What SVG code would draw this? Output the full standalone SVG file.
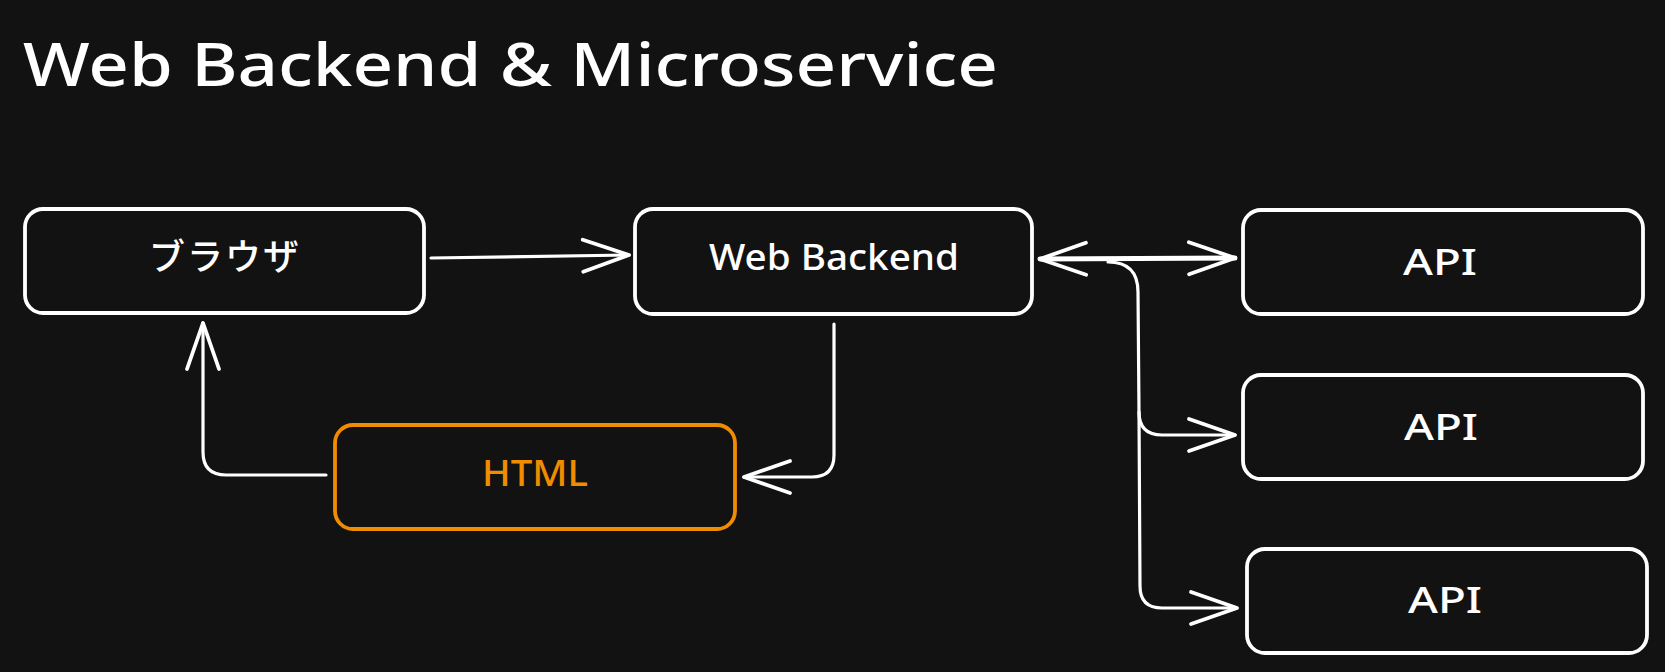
<svg xmlns="http://www.w3.org/2000/svg" width="1665" height="672" viewBox="0 0 1665 672">
<style>
.bg{fill:#121212}
.box{fill:#121212;stroke:#ffffff;stroke-width:3.8}
.box-o{fill:#121212;stroke:#f08c00;stroke-width:3.8}
.lbl{font-family:"Noto Sans","Noto Sans CJK JP",sans-serif;font-size:36px;font-weight:500;fill:#ffffff;text-anchor:middle}
.jp{font-family:"Noto Sans CJK JP","Noto Sans",sans-serif;font-size:36px;font-weight:500;fill:#ffffff;text-anchor:middle}
.orange{fill:#f08c00}
.title{font-family:"Noto Sans","Noto Sans CJK JP",sans-serif;font-size:60px;font-weight:500;fill:#ffffff}
.conn{fill:none;stroke:#ffffff;stroke-width:3.2;stroke-linecap:round;stroke-linejoin:round}
.thick{stroke-width:5}
</style>
<defs>
<marker id="arr" viewBox="0 0 52 38" refX="49" refY="19" markerWidth="52" markerHeight="38" markerUnits="userSpaceOnUse" orient="auto-start-reverse">
<path d="M3,3 L49,19 L3,35" fill="none" stroke="#ffffff" stroke-width="3.8" stroke-linecap="round" stroke-linejoin="round"/>
</marker>
</defs>
<rect class="bg" x="0" y="0" width="1665" height="672"/>
<text class="title" x="23" y="86" textLength="975" lengthAdjust="spacingAndGlyphs">Web Backend &amp; Microservice</text>

<g id="connectors">
<path class="conn" d="M431,258 L629,255" marker-end="url(#arr)"/>
<path class="conn" d="M834,324 L834,455 Q834,477 812,477 L744,477" marker-end="url(#arr)"/>
<path class="conn" d="M326,475 L226,475 Q203,475 203,452 L203,323" marker-end="url(#arr)"/>
<path class="conn thick" d="M1040,259 L1235,258" marker-start="url(#arr)" marker-end="url(#arr)"/>
<path class="conn" d="M1108,262 Q1138,262 1138,292 L1139,412 Q1139,435 1162,435 L1235,435" marker-end="url(#arr)"/>
<path class="conn" d="M1139,412 L1140,586 Q1140,608 1162,608 L1237,608" marker-end="url(#arr)"/>
</g>

<g id="node-browser">
<rect class="box" x="25" y="209" width="399" height="104" rx="18"/>
<text class="jp" x="224" y="270" textLength="150" lengthAdjust="spacing">ブラウザ</text>
</g>
<g id="node-webbackend">
<rect class="box" x="635" y="209" width="397" height="105" rx="18"/>
<text class="lbl" x="834" y="270" textLength="250" lengthAdjust="spacingAndGlyphs">Web Backend</text>
</g>
<g id="node-html">
<rect class="box-o" x="335" y="425" width="400" height="104" rx="18"/>
<text class="lbl orange" x="535" y="486" textLength="106" lengthAdjust="spacingAndGlyphs">HTML</text>
</g>
<g id="node-api1">
<rect class="box" x="1243" y="210" width="400" height="104" rx="18"/>
<text class="lbl" x="1440" y="275" textLength="74" lengthAdjust="spacingAndGlyphs">API</text>
</g>
<g id="node-api2">
<rect class="box" x="1243" y="375" width="400" height="104" rx="18"/>
<text class="lbl" x="1441" y="440" textLength="74" lengthAdjust="spacingAndGlyphs">API</text>
</g>
<g id="node-api3">
<rect class="box" x="1247" y="549" width="400" height="104" rx="18"/>
<text class="lbl" x="1445" y="613" textLength="74" lengthAdjust="spacingAndGlyphs">API</text>
</g>
</svg>
